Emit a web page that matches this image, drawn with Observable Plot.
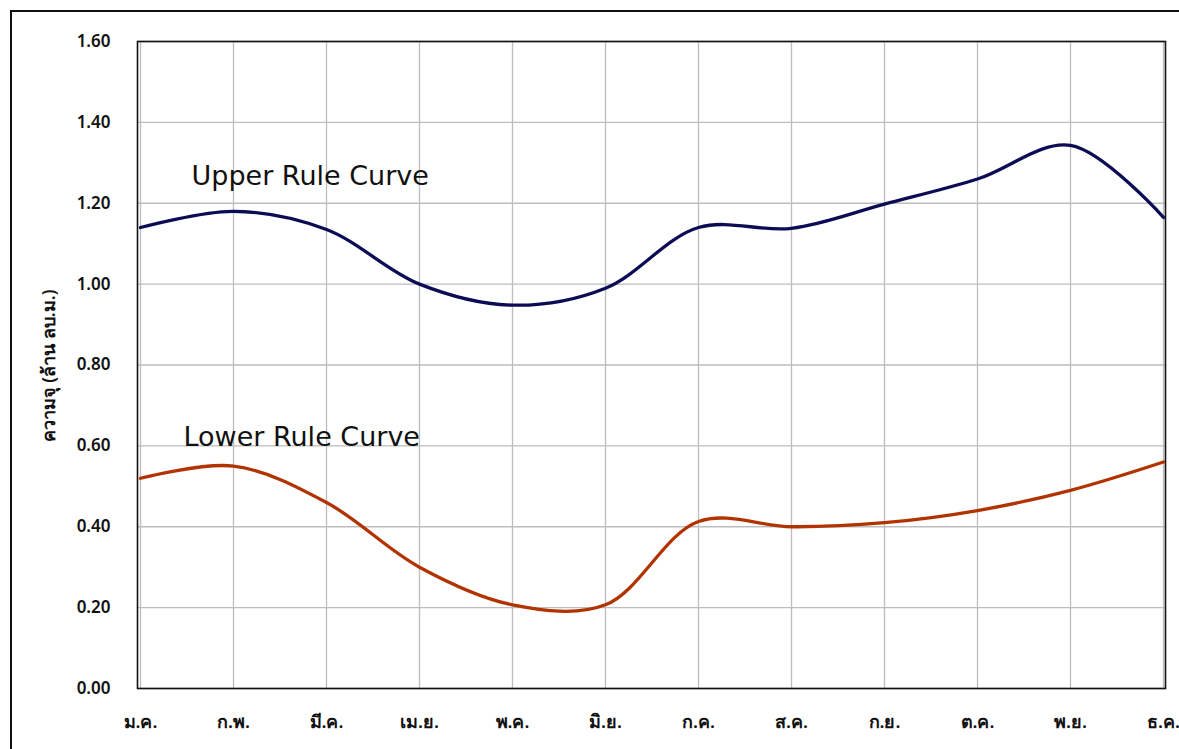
<!DOCTYPE html>
<html>
<head>
<meta charset="utf-8">
<script src="https://cdn.jsdelivr.net/npm/d3@7"></script>
<script src="https://cdn.jsdelivr.net/npm/@observablehq/plot@0.6"></script>
<style>
  html, body { margin: 0; padding: 0; background: #fff; overflow: hidden; }
  #wrap { position: relative; width: 1179px; height: 749px; }
  #border { position: absolute; left: 10px; top: 10px; width: 1300px; height: 900px; border: 2px solid #111; pointer-events: none; box-sizing: border-box; }
</style>
</head>
<body>
<div id="wrap"><div id="border"></div></div>
<script>
const months = ["ม.ค.", "ก.พ.", "มี.ค.", "เม.ย.", "พ.ค.", "มิ.ย.", "ก.ค.", "ส.ค.", "ก.ย.", "ต.ค.", "พ.ย.", "ธ.ค."];
const upper = [1.14, 1.18, 1.135, 1.00, 0.948, 0.99, 1.14, 1.138, 1.198, 1.26, 1.343, 1.165];
const lower = [0.52, 0.55, 0.46, 0.30, 0.207, 0.207, 0.413, 0.40, 0.41, 0.44, 0.49, 0.56];
const yTicks = [0, 0.2, 0.4, 0.6, 0.8, 1.0, 1.2, 1.4, 1.6];
const upperLabel = [{text: "Upper Rule Curve", month: "ก.พ.", value: 1.267}];
const lowerLabel = [{text: "Lower Rule Curve", month: "ก.พ.", value: 0.622}];

const upperData = months.map((m, i) => ({month: m, value: upper[i]}));
const lowerData = months.map((m, i) => ({month: m, value: lower[i]}));
const font = "'Noto Sans', 'Open Sans', 'DejaVu Sans', sans-serif";
const labelFont = "'DejaVu Sans', 'Noto Sans', sans-serif";

const chart = Plot.plot({
  width: 1179,
  height: 749,
  marginLeft: 137,
  marginRight: 14,
  marginTop: 41,
  marginBottom: 61,
  style: {fontFamily: font, fontSize: "17px", color: "#000", background: "transparent"},
  x: {type: "point", domain: months, padding: 0, label: null},
  y: {domain: [0, 1.6], ticks: yTicks, label: null},
  marks: [
    Plot.gridX(months, {stroke: "#bdbdbd", strokeOpacity: 1, strokeWidth: 1.3}),
    Plot.gridY(yTicks, {stroke: "#bdbdbd", strokeOpacity: 1, strokeWidth: 1.3}),
    Plot.frame({stroke: "#111", strokeWidth: 1.6}),
    Plot.axisX(months, {tickSize: 0, tickPadding: 27, fontSize: 18, fontWeight: 600, fill: "#111"}),
    Plot.axisY(yTicks, {tickSize: 0, tickPadding: 27, tickFormat: d3.format(".2f"), fontSize: 17, fontWeight: 600, fill: "#111", label: null}),
    Plot.line(upperData, {x: "month", y: "value", curve: "catmull-rom", stroke: "#0c0c55", strokeWidth: 3.3}),
    Plot.line(lowerData, {x: "month", y: "value", curve: "catmull-rom", stroke: "#b13300", strokeWidth: 3.3}),
    Plot.text(upperLabel, {x: "month", y: "value", text: "text", dx: -42, textAnchor: "start", fontSize: 27, fontFamily: labelFont, fill: "#111"}),
    Plot.text(lowerLabel, {x: "month", y: "value", text: "text", dx: -50, textAnchor: "start", fontSize: 27, fontFamily: labelFont, fill: "#111"})
  ]
});
chart.style.position = "absolute";
chart.style.left = "0";
chart.style.top = "0";
document.getElementById("wrap").appendChild(chart);

const svg = d3.select(chart);
svg.append("text")
  .attr("transform", "translate(50,366) rotate(-90)")
  .attr("text-anchor", "middle")
  .attr("dominant-baseline", "middle")
  .style("font-family", font)
  .style("font-size", "18px")
  .style("font-weight", 600)
  .attr("fill", "#111")
  .text("ความจุ (ล้าน ลบ.ม.)");
</script>
</body>
</html>
